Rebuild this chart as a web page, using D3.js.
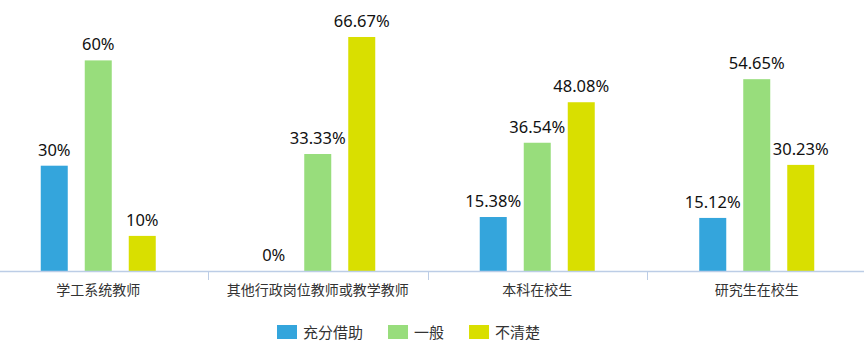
<!DOCTYPE html>
<html>
<head>
<meta charset="utf-8">
<script src="https://cdn.jsdelivr.net/npm/d3@7/dist/d3.min.js"></script>
<style>
  html, body { margin: 0; padding: 0; background: #fff; }
  svg { display: block; }
</style>
</head>
<body>
<svg id="chart" width="864" height="356"></svg>
<script>
const categories = ["学工系统教师", "其他行政岗位教师或教学教师", "本科在校生", "研究生在校生"];
const seriesNames = ["充分借助", "一般", "不清楚"];
const seriesColors = ["#34a5dc", "#98dd7c", "#d9df00"];
const valuesChongfen = [30, 0, 15.38, 15.12];
const valuesYiban = [60, 33.33, 36.54, 54.65];
const valuesBuqingchu = [10, 66.67, 48.08, 30.23];
const labelsChongfen = ["30%", "0%", "15.38%", "15.12%"];
const labelsYiban = ["60%", "33.33%", "36.54%", "54.65%"];
const labelsBuqingchu = ["10%", "66.67%", "48.08%", "30.23%"];

const seriesValues = [valuesChongfen, valuesYiban, valuesBuqingchu];
const seriesLabels = [labelsChongfen, labelsYiban, labelsBuqingchu];

const svg = d3.select("#chart");
const baseY = 271;
const pxPerUnit = 3.51;

const x0 = d3.scaleBand().domain(categories).range([-11.5, 866.5]).paddingInner(0).paddingOuter(0);
const innerW = 115;
const x1 = d3.scaleBand().domain(seriesNames).range([0, innerW]).paddingInner(17 / 44);
const y = d3.scaleLinear().domain([0, 100]).range([baseY, baseY - 100 * pxPerUnit]);

const font = "'Microsoft YaHei', 'Noto Sans CJK SC', 'Noto Sans', sans-serif";

const rows = [];
categories.forEach((c, ci) => {
  seriesNames.forEach((s, si) => {
    rows.push({ cat: c, ser: s, si, v: seriesValues[si][ci], label: seriesLabels[si][ci] });
  });
});

const off = (x0.bandwidth() - innerW) / 2;
const g = svg.append("g");
g.selectAll("rect.bar").data(rows).enter().append("rect")
  .attr("class", "bar")
  .attr("x", d => x0(d.cat) + off + x1(d.ser))
  .attr("y", d => y(d.v))
  .attr("width", x1.bandwidth())
  .attr("height", d => baseY - y(d.v))
  .attr("fill", d => seriesColors[d.si]);

g.selectAll("text.val").data(rows).enter().append("text")
  .attr("class", "val")
  .attr("x", d => x0(d.cat) + off + x1(d.ser) + x1.bandwidth() / 2)
  .attr("y", d => y(d.v) - 10)
  .attr("text-anchor", "middle")
  .attr("font-family", "'Noto Sans', sans-serif")
  .attr("font-size", 16.5)
  .attr("fill", "#111")
  .text(d => d.label);

const axis = svg.append("g").attr("transform", `translate(0,${baseY})`)
  .call(d3.axisBottom(x0).tickSize(0).tickPadding(14));
axis.select(".domain").attr("stroke", "#bccde6").attr("stroke-width", 1.5)
  .attr("d", `M-20,0.5H884`);
axis.selectAll(".tick text")
  .attr("font-family", font)
  .attr("font-size", 14)
  .attr("fill", "#333");
const bounds = categories.map(c => x0(c)).concat([x0.range()[1]]);
axis.selectAll("line.bound").data(bounds).enter().append("line")
  .attr("class", "bound")
  .attr("x1", d => Math.round(d) + 0.5).attr("x2", d => Math.round(d) + 0.5)
  .attr("y1", 0).attr("y2", 9)
  .attr("stroke", "#bccde6").attr("stroke-width", 1);

const legend = svg.append("g").attr("transform", "translate(277,325)");
let lx = 0;
seriesNames.forEach((s, i) => {
  const item = legend.append("g").attr("transform", `translate(${lx},0)`);
  item.append("rect").attr("width", 20).attr("height", 14).attr("fill", seriesColors[i]);
  const t = item.append("text").attr("x", 26).attr("y", 12.5)
    .attr("font-family", font).attr("font-size", 15).attr("fill", "#333").text(s);
  lx += 26 + t.node().getComputedTextLength() + 25;
});
</script>
</body>
</html>
